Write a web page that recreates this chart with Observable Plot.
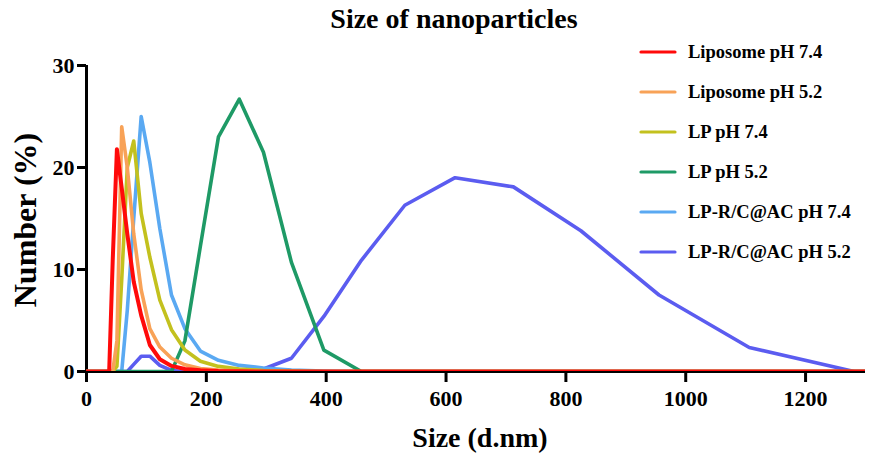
<!DOCTYPE html>
<html>
<head>
<meta charset="utf-8">
<script src="https://cdn.jsdelivr.net/npm/d3@7"></script>
<script src="https://cdn.jsdelivr.net/npm/@observablehq/plot@0.6"></script>
<style>
  html, body { margin: 0; padding: 0; background: #fff; }
  #chart svg { display: block; }
</style>
</head>
<body>
<div id="chart"></div>
<script>
// DLS size bins (d.nm)
const sizes = [0.4, 24.36, 28.21, 32.67, 37.84, 43.82, 50.75, 58.77, 68.06, 78.82, 91.28, 105.7, 122.4, 141.8, 164.2, 190.1, 220.2, 255.0, 295.3, 342.0, 396.1, 458.7, 531.2, 615.1, 712.4, 825.0, 955.4, 1106, 1281, 1484];

const liposome74 = [0,0,0,0,0,11,21.8,18,13.5,8.8,5.5,2.6,1.2,0.55,0.25,0.12,0.05,0.02,0,0,0,0,0,0,0,0,0,0,0,0];
const liposome52 = [0,0,0,0,0,0,3,24,20,13.5,8,4.2,2.4,1.3,0.65,0.3,0.15,0.05,0,0,0,0,0,0,0,0,0,0,0,0];
const lp74       = [0,0,0,0,0,0,0.5,9,20,22.6,15.5,11.2,7,4.1,2.1,1.0,0.5,0.25,0.1,0.05,0,0,0,0,0,0,0,0,0,0];
const lp52       = [0,0,0,0,0,0,0,0,0,0,0,0,0,0,3.0,12.3,23,26.7,21.5,10.7,2.1,0,0,0,0,0,0,0,0,0];
const lprc74     = [0,0,0,0,0,0,0,0,6,15,25,20.5,14,7.5,4.2,2.0,1.1,0.6,0.35,0.15,0.05,0,0,0,0,0,0,0,0,0];
const lprc52     = [0,0,0,0,0,0,0,0,0,0.7,1.5,1.5,0.6,0.1,0,0,0,0.05,0.25,1.3,5.4,10.9,16.3,19.0,18.1,13.8,7.5,2.35,0,0];

const seriesNames = ["Liposome pH 7.4", "Liposome pH 5.2", "LP pH 7.4", "LP pH 5.2", "LP-R/C@AC pH 7.4", "LP-R/C@AC pH 5.2"];
const seriesValues = [liposome74, liposome52, lp74, lp52, lprc74, lprc52];
const seriesColors = ["#ff0a0a", "#f8a257", "#c3c11e", "#1e9a66", "#5aa9f2", "#5b5cf0"];

const xTicks = [0, 200, 400, 600, 800, 1000, 1200];
const yTicks = [0, 10, 20, 30];

const title = "Size of nanoparticles";
const xLabel = "Size (d.nm)";
const yLabel = "Number (%)";

const W = 869, H = 455;
const mL = 86, mR = 4, mT = 65, mB = 84;

const table = seriesNames.flatMap((name, s) =>
  sizes.map((x, i) => ({ name, x, y: seriesValues[s][i] })));

// draw order: last series first, red on top
const lineMarks = seriesNames.slice().reverse().map(name =>
  Plot.line(table.filter(d => d.name === name), {
    x: "x", y: "y", stroke: "name",
    strokeWidth: name === "Liposome pH 7.4" ? 4 : 3.6,
    strokeLinejoin: "round", clip: true
  }));

const chart = Plot.plot({
  width: W, height: H,
  marginLeft: mL, marginRight: mR, marginTop: mT, marginBottom: mB,
  style: { fontFamily: "'Liberation Serif', 'Times New Roman', serif", fontWeight: "bold", color: "#000", background: "#fff" },
  x: { domain: [0, 1300] },
  y: { domain: [0, 30] },
  color: { domain: seriesNames, range: seriesColors },
  marks: [
    Plot.axisX({ ticks: xTicks, tickSize: 11, tickPadding: 8, fontSize: 22, strokeWidth: 3, label: null, tickFormat: d => String(d) }),
    Plot.axisY({ ticks: yTicks, tickSize: 9, tickPadding: 3, fontSize: 22, strokeWidth: 3, label: null }),
    Plot.ruleX([0], { strokeWidth: 3 }),
    Plot.ruleY([0], { strokeWidth: 3 }),
    ...lineMarks
  ]
});

const svg = d3.select(chart);
const font = "'Liberation Serif', 'Times New Roman', serif";

svg.append("text")
  .attr("x", 454).attr("y", 28)
  .attr("text-anchor", "middle")
  .attr("font-family", font).attr("font-weight", "bold").attr("font-size", 28)
  .attr("fill", "#000")
  .text(title);

svg.append("text")
  .attr("x", 480).attr("y", 447)
  .attr("text-anchor", "middle")
  .attr("font-family", font).attr("font-weight", "bold").attr("font-size", 28)
  .attr("fill", "#000")
  .text(xLabel);

svg.append("text")
  .attr("transform", `translate(36, 220) rotate(-90)`)
  .attr("text-anchor", "middle")
  .attr("font-family", font).attr("font-weight", "bold").attr("font-size", 32)
  .attr("fill", "#000")
  .text(yLabel);

const legend = svg.append("g");
seriesNames.forEach((name, i) => {
  const cy = 52 + i * 40;
  legend.append("line")
    .attr("x1", 641).attr("x2", 675).attr("y1", cy).attr("y2", cy)
    .attr("stroke", seriesColors[i]).attr("stroke-width", 3.2).attr("stroke-linecap", "round");
  legend.append("text")
    .attr("x", 688).attr("y", cy).attr("dy", "0.35em")
    .attr("text-anchor", "start")
    .attr("font-family", font).attr("font-weight", "bold").attr("font-size", 18.5)
    .attr("fill", "#000")
    .text(name);
});

document.getElementById("chart").appendChild(chart);
</script>
</body>
</html>
